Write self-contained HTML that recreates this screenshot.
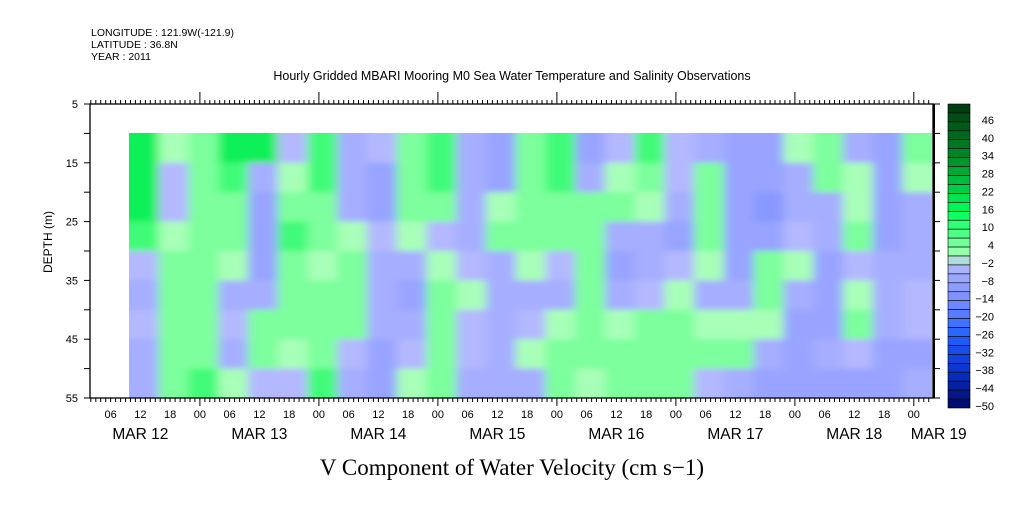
<!DOCTYPE html>
<html><head><meta charset="utf-8">
<style>
body{margin:0;background:#fff;width:1009px;height:504px;overflow:hidden}
svg text{font-family:"Liberation Sans",sans-serif;fill:#000}
</style></head>
<body>
<svg id="chart" width="1009" height="504" viewBox="0 0 1009 504" xmlns="http://www.w3.org/2000/svg">
<defs>
<filter id="soft" x="-5%" y="-5%" width="110%" height="110%"><feGaussianBlur stdDeviation="5 3"/></filter>
<clipPath id="dataclip"><rect x="129" y="133" width="803" height="265"/></clipPath>
</defs>
<g font-size="10.5">
<text x="91" y="36">LONGITUDE : 121.9W(-121.9)</text>
<text x="91" y="48">LATITUDE : 36.8N</text>
<text x="91" y="60">YEAR : 2011</text>
</g>
<text x="512" y="80" font-size="12.5" text-anchor="middle">Hourly Gridded MBARI Mooring M0 Sea Water Temperature and Salinity Observations</text>
<g clip-path="url(#dataclip)"><g id="cells" filter="url(#soft)"></g></g>
<g id="axes"></g>
<g id="cbar"></g>
<text x="60" y="250" font-size="12" text-anchor="middle" transform="rotate(-90 52 250)">DEPTH (m)</text>
<text x="512" y="475" font-size="23" text-anchor="middle" style="font-family:'Liberation Serif',serif">V Component of Water Velocity (cm s−1)</text>
</svg>
<script>
// hours since Mar 12 00:00 for each 6h column start
const colStartHours = [9.7,15.7,21.7,27.7,33.7,39.7,45.7,51.7,57.7,63.7,69.7,75.7,81.7,87.7,93.7,99.7,105.7,111.7,117.7,123.7,129.7,135.7,141.7,147.7,153.7,159.7,165.7];
const depthRows = [10,15,20,25,30,35,40,45,50];
// values[col][row] in cm/s
const values = [
[18,18,18,10,-2,-4,0,-4,-3],
[2,0,-2,3,6,8,6,8,6],
[8,6,6,8,8,4,6,8,12],
[16,12,8,4,2,-4,-2,-4,2],
[16,-4,-6,-8,-6,-4,4,6,-2],
[-2,3,8,10,8,6,4,2,-2],
[10,10,6,6,3,4,6,8,10],
[-4,-4,-4,2,4,6,6,0,-4],
[0,-6,-6,-2,-4,-4,-4,-6,-6],
[6,4,4,2,-4,-6,-4,0,2],
[14,12,6,-2,2,6,6,8,6],
[-4,-4,-4,-4,-2,2,0,-2,-4],
[-8,-6,2,4,-4,-4,-4,-4,-4],
[6,8,8,6,2,-4,-2,2,-4],
[14,12,8,4,-2,-4,2,6,4],
[-6,-4,4,6,6,8,6,6,2],
[0,2,4,-4,-6,-4,2,4,6],
[14,8,2,-4,-4,0,4,6,6],
[-2,-2,-4,-6,0,2,6,6,4],
[-4,6,6,6,2,-4,2,6,-2],
[-6,-6,-8,-8,-6,-4,2,4,-4],
[-6,-8,-10,-8,4,6,2,-4,-6],
[2,-4,-4,0,2,-4,-6,-6,-6],
[4,4,-4,-4,-6,-8,-6,-4,-6],
[-4,2,2,4,-2,2,4,-2,-6],
[-6,-6,-6,-6,-4,-4,-4,-6,-6],
[4,2,-4,-4,-4,0,-2,-6,-4]
];
const colHours = 6, rowDepth = 5;
const cbarLevels = [46,40,34,28,22,16,10,4,-2,-8,-14,-20,-26,-32,-38,-44,-50];
const hourTickLabels = ["06","12","18","00"];
const dayLabels = ["MAR 12","MAR 13","MAR 14","MAR 15","MAR 16","MAR 17","MAR 18","MAR 19"];
const depthTicks = [5,15,25,35,45,55];

const NS="http://www.w3.org/2000/svg";
const X0=90,X1=933,Y0=104,Y1=398;
const xOf=h=>80.9+h*4.958;
const yOf=d=>Y0+(d-5)*(Y1-Y0)/50;
function mk(tag,attrs,parent){const e=document.createElementNS(NS,tag);for(const k in attrs)e.setAttribute(k,attrs[k]);parent.appendChild(e);return e;}
function color(v){
  if(v>=16)return"#10f058";
  if(v>=10)return"#40fb78";
  if(v>=4)return"#7cff9c";
  if(v>=1)return"#a8ffb8";
  if(v>=-2)return"#b4b8ff";
  if(v>=-5)return"#a6aeff";
  if(v>=-8)return"#98a4ff";
  if(v>=-11)return"#8898ff";
  return"#7888ff";
}
const cells=document.getElementById('cells');
colStartHours.forEach((h,i)=>{
  depthRows.forEach((d,j)=>{
    let x=xOf(h),x2=xOf(h+colHours),y=yOf(d),y2=yOf(d+rowDepth);
    if(i===0)x-=12; if(i===colStartHours.length-1)x2+=12;
    if(j===0)y-=10; if(j===depthRows.length-1)y2+=10;
    const r=mk('rect',{x:x.toFixed(1),y:y.toFixed(1),width:(x2-x+0.5).toFixed(1),height:(y2-y+0.5).toFixed(1),fill:color(values[i][j])},cells);
    
    
  });
});
const ax=document.getElementById('axes');
const frame=mk('rect',{x:X0,y:Y0,width:X1-X0,height:Y1-Y0,fill:'none',stroke:'#000','stroke-width':1.3},ax);


mk('line',{x1:X1+1,y1:Y0,x2:X1+1,y2:Y1,stroke:'#000','stroke-width':2},ax);
for(let h=2;h<=171;h++){
  const x=xOf(h).toFixed(1);const major=h%24===0;
  mk('line',{x1:x,y1:Y0,x2:x,y2:Y0-(major?12:4),stroke:'#000','stroke-width':1},ax);
  mk('line',{x1:x,y1:Y1,x2:x,y2:Y1+(major?8:4),stroke:'#000','stroke-width':1},ax);
  if(h%6===0){
    const t=mk('text',{x:x,y:418,'font-size':11,'text-anchor':'middle'},ax);
    t.textContent=hourTickLabels[(h/6-1)%4];
    
    
  }
}
dayLabels.forEach((lab,i)=>{
  const h=i<7?12+24*i:172;
  const t=mk('text',{x:(i===7?xOf(h)+5:xOf(h)).toFixed(1),y:439,'font-size':15.5,'text-anchor':'middle'},ax);
  t.textContent=lab;
  
  
});
for(let d=5;d<=55;d+=5){
  const y=yOf(d).toFixed(1);
  mk('line',{x1:X0,y1:y,x2:X0-6,y2:y,stroke:'#000'},ax);
  mk('line',{x1:X1,y1:y,x2:X1+7,y2:y,stroke:'#000'},ax);
}
depthTicks.forEach(d=>{
  const t=mk('text',{x:78,y:(yOf(d)+4).toFixed(1),'font-size':11,'text-anchor':'end'},ax);
  t.textContent=d;
  
  
});
const cb=document.getElementById('cbar');
const anchors=[[52,[0,56,16]],[34,[0,140,40]],[16,[0,255,90]],[4,[130,255,160]],[1,[170,255,180]],[-2,[176,184,255]],[-14,[120,140,255]],[-26,[32,96,255]],[-38,[8,48,200]],[-50,[0,8,100]]];
function cbColor(v){
  for(let i=0;i<anchors.length-1;i++){const[a,ca]=anchors[i],[b,cb2]=anchors[i+1];
    if(v<=a&&v>=b){const t=(a-v)/(a-b);return'rgb('+ca.map((c,k)=>Math.round(c+(cb2[k]-c)*t)).join(',')+')';}}
  return'rgb(0,8,100)';
}
const CBX=948,CBY0=104,CBY1=408,N=34,sh=(CBY1-CBY0)/N;
for(let i=0;i<N;i++){
  const v=52-i*3-1.5;
  const r=mk('rect',{x:CBX,y:(CBY0+i*sh).toFixed(2),width:22,height:sh.toFixed(2),fill:cbColor(v),stroke:'#000','stroke-width':0.6},cb);
  
  
}
cbarLevels.forEach(v=>{
  const y=CBY0+(52-v)/3*sh;
  const t=mk('text',{x:994,y:(y+2).toFixed(1),'font-size':11,'text-anchor':'end'},cb);
  t.textContent=v<0?'−'+(-v):v;
  
  
});
</script>
</body></html>
